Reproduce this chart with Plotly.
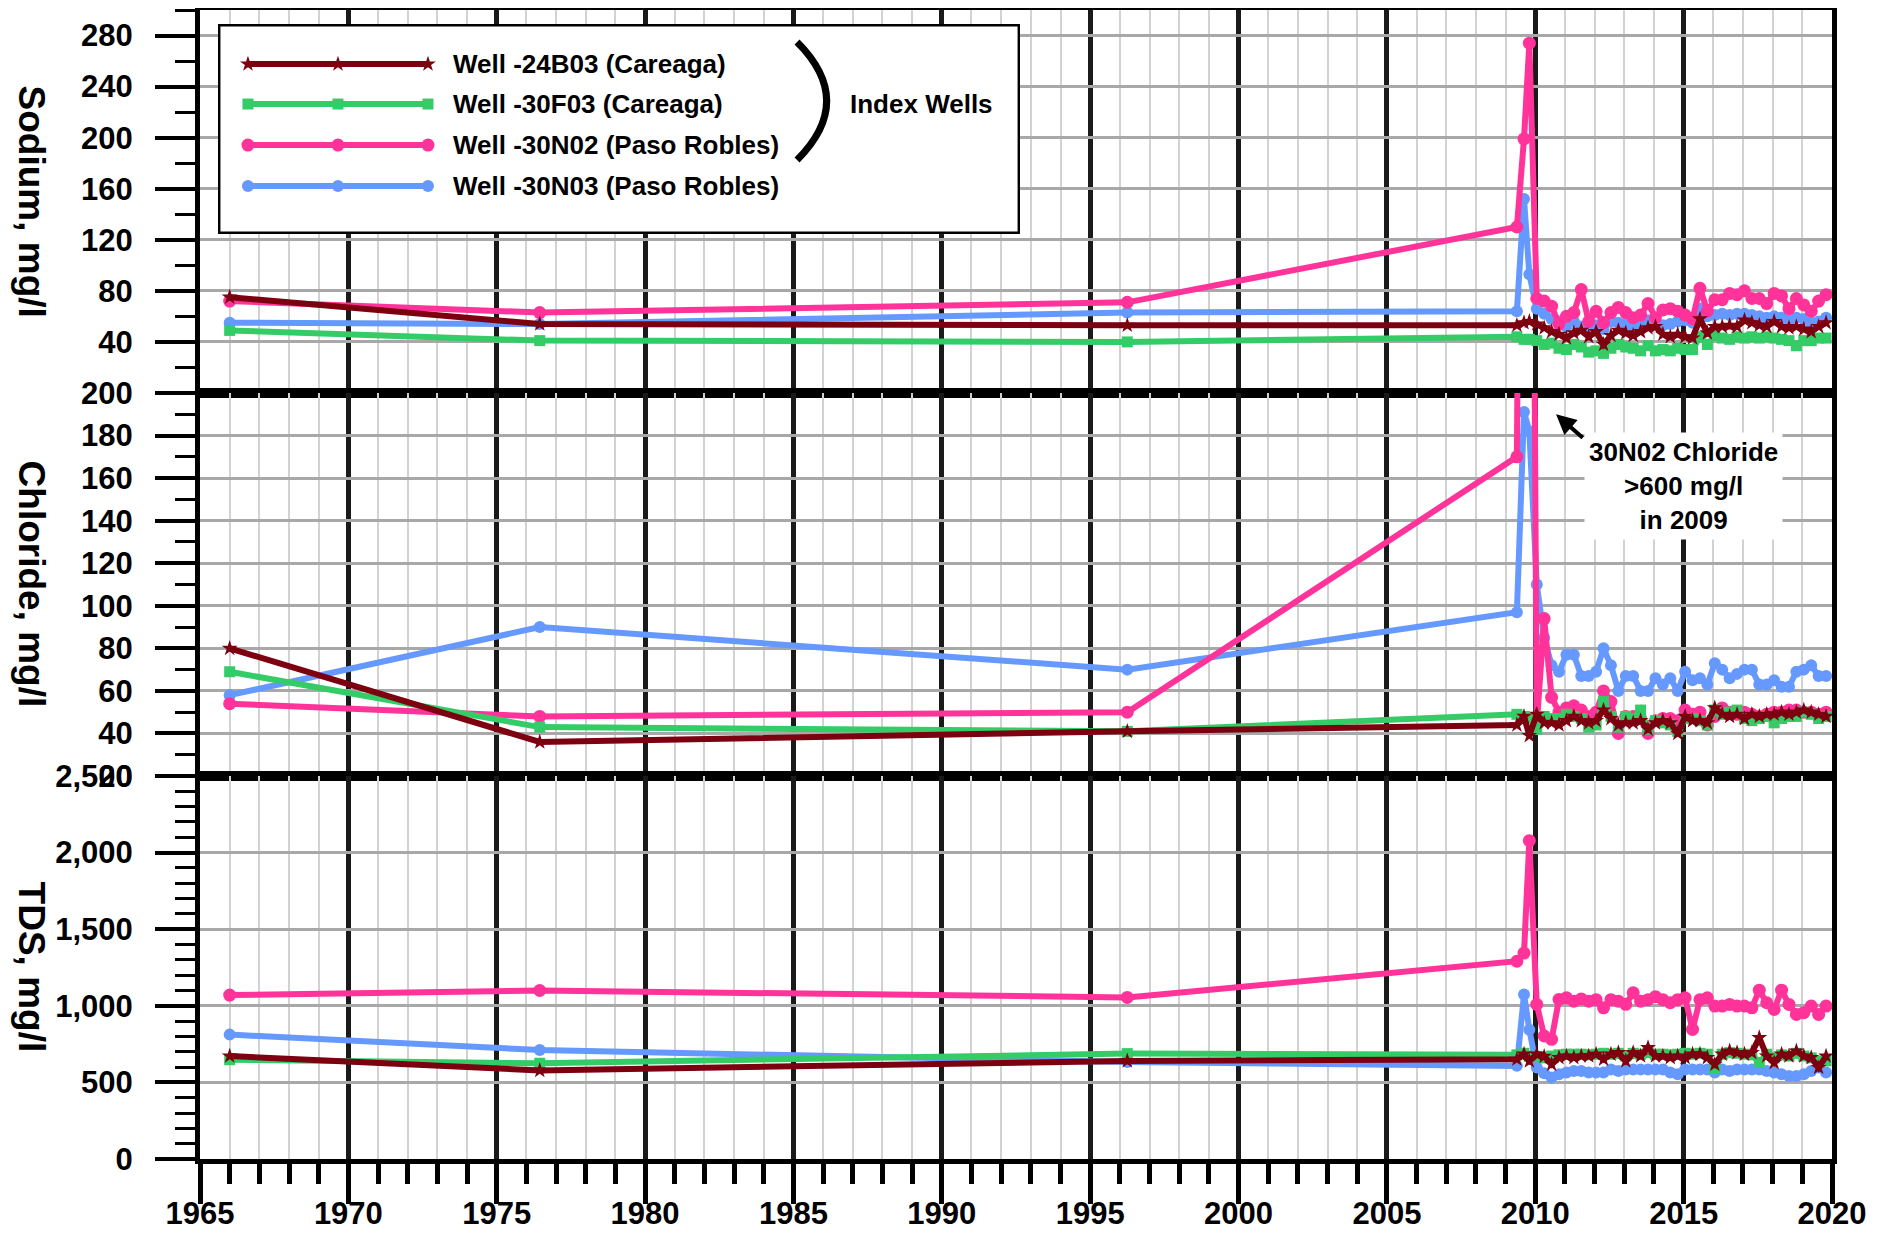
import plotly.graph_objects as go

# sample dates (decimal years)
t_early = [1966.0, 1976.45, 1996.25, 2009.38]
t_spike = [2009.62, 2009.8]
t_recent = [2010.05, 2010.30, 2010.55, 2010.80, 2011.05, 2011.30, 2011.55, 2011.80,
            2012.05, 2012.30, 2012.55, 2012.80, 2013.05, 2013.30, 2013.55, 2013.80,
            2014.05, 2014.30, 2014.55, 2014.80, 2015.05, 2015.30, 2015.55, 2015.80,
            2016.05, 2016.30, 2016.55, 2016.80, 2017.05, 2017.30, 2017.55, 2017.80,
            2018.05, 2018.30, 2018.55, 2018.80, 2019.05, 2019.30, 2019.55, 2019.80]
t_all = t_early + t_spike + t_recent

wells = ["Well -24B03 (Careaga)", "Well -30F03 (Careaga)",
         "Well -30N02 (Paso Robles)", "Well -30N03 (Paso Robles)"]

# Sodium, mg/l
na_24b03 = [75, 54, 53, 53, 55, 56,
            54, 51, 48, 46, 43, 47, 49, 44, 48, 38,
            45, 49, 47, 45, 48, 51, 52, 46, 44, 46,
            44, 43, 58, 47, 52, 52, 53, 52, 57, 55,
            53, 52, 56, 52, 51, 52, 50, 48, 52, 55]
na_30f03 = [49, 41, 40, 44, 42, 42,
            41, 38, 39, 35, 34, 38, 36, 32, 33, 31,
            35, 38, 36, 35, 33, 37, 33, 34, 33, 35,
            34, 34, 44, 38, 45, 43, 42, 44, 43, 44,
            43, 44, 43, 42, 41, 37, 41, 41, 43, 43]
na_30n02 = [72, 63, 71, 130, 199, 274,
            74, 72, 68, 54, 60, 63, 81, 56, 64, 55,
            63, 67, 63, 59, 61, 70, 59, 65, 66, 64,
            61, 58, 82, 64, 73, 73, 78, 77, 80, 74,
            74, 70, 78, 76, 66, 74, 69, 64, 72, 77]
na_30n03 = [55, 54, 63, 64, 152, 93,
            66, 62, 58, 56, 52, 56, 52, 49, 53, 50,
            56, 55, 54, 52, 54, 57, 56, 53, 54, 56,
            57, 55, 66, 60, 61, 62, 61, 62, 62, 61,
            60, 59, 60, 59, 57, 59, 58, 55, 56, 59]

# Chloride, mg/l
cl_24b03 = [80, 36, 41, 44, 48, 39,
            49, 45, 45, 44, 46, 48, 46, 45, 46, 51,
            47, 44, 45, 45, 46, 42, 45, 46, 45, 40,
            48, 46, 46, 45, 52, 49, 48, 49, 47, 49,
            48, 49, 49, 50, 49, 50, 51, 50, 49, 48]
cl_30f03 = [69, 43, 41, 49, 48, 47,
            42, 48, 47, 47, 49, 48, 47, 43, 44, 55,
            48, 43, 48, 47, 51, 42, 46, 45, 44, 41,
            47, 47, 46, 44, 51, 49, 50, 51, 47, 46,
            47, 48, 45, 47, 48, 48, 50, 49, 47, 48]
cl_30n02 = [54, 48, 50, 170, 620, 610,
            44, 94, 57, 50, 52, 53, 51, 48, 50, 60,
            55, 40, 48, 48, 47, 40, 46, 47, 47, 46,
            51, 49, 50, 44, 48, 52, 50, 49, 50, 49,
            48, 49, 50, 50, 51, 51, 50, 50, 49, 50]
cl_30n03 = [58, 90, 70, 97, 191, 182,
            110, 85, 72, 69, 77, 77, 67, 67, 69, 80,
            72, 60, 67, 67, 60, 60, 66, 63, 66, 60,
            69, 65, 66, 63, 73, 70, 66, 68, 70, 70,
            63, 63, 65, 62, 62, 69, 70, 72, 67, 67]

# TDS, mg/l
tds_24b03 = [672, 578, 640, 651, 684, 640,
             684, 670, 618, 662, 672, 662, 672, 672, 684, 651,
             684, 694, 640, 694, 672, 727, 672, 672, 662, 672,
             662, 684, 684, 662, 618, 684, 705, 694, 684, 694,
             792, 672, 629, 684, 672, 705, 672, 662, 597, 672]
tds_30f03 = [648, 625, 688, 680, 690, 670,
             670, 660, 672, 680, 684, 684, 684, 680, 684, 690,
             684, 690, 672, 690, 684, 694, 684, 684, 680, 684,
             690, 684, 690, 684, 590, 684, 694, 690, 684, 680,
             630, 684, 660, 680, 672, 690, 672, 660, 640, 640]
tds_30n02 = [1070, 1100, 1055, 1291, 1344, 2078,
             1009, 803, 781, 1042, 1052, 1030, 1045, 1030, 1040, 987,
             1040, 1030, 1010, 1085, 1030, 1040, 1060, 1040, 1020, 1040,
             1052, 846, 1040, 1052, 998, 998, 1009, 998, 998, 987,
             1102, 1020, 976, 1102, 1009, 944, 955, 998, 944, 998]
tds_30n03 = [812, 711, 633, 608, 1074, 844,
             597, 560, 532, 553, 565, 575, 575, 565, 565, 565,
             585, 575, 585, 585, 585, 585, 585, 585, 565, 553,
             585, 585, 585, 585, 565, 585, 575, 585, 585, 585,
             585, 575, 565, 553, 542, 542, 553, 575, 597, 565]

colors = ["#7d0011", "#33cc66", "#ff3399", "#6699ff"]
symbols = ["star", "square", "circle", "circle"]
msizes = [12, 11, 13, 12]

panels = [
    ("x", "y", [na_24b03, na_30f03, na_30n02, na_30n03]),
    ("x2", "y2", [cl_24b03, cl_30f03, cl_30n02, cl_30n03]),
    ("x3", "y3", [tds_24b03, tds_30f03, tds_30n02, tds_30n03]),
]

fig = go.Figure()
draw_order = [3, 2, 1, 0]  # blue, pink, green, maroon on top
for xa, ya, series in panels:
    for i in draw_order:
        fig.add_trace(go.Scatter(
            x=t_all, y=series[i], name=wells[i], mode="lines+markers",
            line=dict(color=colors[i], width=6),
            marker=dict(symbol=symbols[i], size=msizes[i], color=colors[i]),
            xaxis=xa, yaxis=ya, showlegend=False))

# legend (drawn on its own hidden axes, pixel-like units)
leg_rows = [64, 104, 145, 186]
for i in range(4):
    fig.add_trace(go.Scatter(
        x=[248, 338, 428], y=[leg_rows[i]] * 3, mode="lines+markers",
        line=dict(color=colors[i], width=6),
        marker=dict(symbol=symbols[i], size=msizes[i], color=colors[i]),
        xaxis="x4", yaxis="y4", showlegend=False, hoverinfo="skip"))

tickfont = dict(family="Liberation Sans, Arial", size=31, color="black", weight="bold")
xcommon = dict(range=[1965, 2020], tick0=1965, dtick=5, showgrid=True,
               gridcolor="#1a1a1a", gridwidth=5, zeroline=False, automargin=False,
               showline=True, linecolor="black", linewidth=5, mirror=True,
               minor=dict(dtick=1, showgrid=True, gridcolor="#d2d2d2", gridwidth=2))
ycommon = dict(showgrid=True, gridcolor="#a8a8a8", gridwidth=2.5, zeroline=False,
               showline=True, linecolor="black", linewidth=5, mirror=True,
               ticks="outside", ticklen=40, tickwidth=4, tickcolor="black",
               tickfont=tickfont, ticklabelstandoff=16, automargin=False)

# page body has an 8px margin, so the figure is a bit smaller than the window
fig.update_layout(
    width=1865, height=1217,
    margin=dict(l=192, r=41, t=2, b=66),
    paper_bgcolor="white", plot_bgcolor="white",
    showlegend=False,
    xaxis3=dict(xcommon, anchor="y3", ticks="outside", ticklen=40, tickwidth=5,
                tickcolor="black", tickfont=tickfont, ticklabelstandoff=-17,
                minor=dict(xcommon["minor"], ticks="outside", ticklen=20,
                           tickwidth=5, tickcolor="black")),
    xaxis2=dict(xcommon, anchor="y2", matches="x3", showticklabels=False, ticks=""),
    xaxis=dict(xcommon, anchor="y", matches="x3", showticklabels=False, ticks=""),
    yaxis=dict(ycommon, domain=[0.6667, 1.0], anchor="x", range=[0, 300],
               tickmode="array", tickvals=[40, 80, 120, 160, 200, 240, 280],
               minor=dict(tickmode="linear", tick0=0, dtick=20, ticks="outside",
                          ticklen=20, tickwidth=3, tickcolor="black", showgrid=False)),
    yaxis2=dict(ycommon, domain=[0.3333, 0.6667], anchor="x2", range=[20, 200],
                tick0=20, dtick=20,
                minor=dict(dtick=10, ticks="outside", ticklen=20, tickwidth=3,
                           tickcolor="black", showgrid=False)),
    yaxis3=dict(ycommon, domain=[0.0, 0.3333], anchor="x3", range=[0, 2500],
                tick0=0, dtick=500, tickformat=",d",
                minor=dict(dtick=100, ticks="outside", ticklen=20, tickwidth=3,
                           tickcolor="black", showgrid=False)),
    xaxis4=dict(domain=[0.011, 0.5025], range=[218, 1020], visible=False,
                anchor="y4", automargin=False),
    yaxis4=dict(domain=[0.805, 0.9878], range=[234, 24], visible=False,
                anchor="x4", automargin=False),
)

# legend box and bracket
fig.add_shape(type="rect", xref="x4", yref="y4", x0=218, x1=1020, y0=24, y1=234,
              line=dict(color="black", width=5), fillcolor="white", layer="between")
fig.add_shape(type="path", xref="x4", yref="y4",
              path="M 797,42 Q 856,101 797,160",
              line=dict(color="black", width=7))

legfont = dict(family="Liberation Sans, Arial", size=26, color="black", weight="bold")
for i in range(4):
    fig.add_annotation(x=451, y=leg_rows[i], xref="x4", yref="y4", text=wells[i],
                       showarrow=False, xanchor="left", yanchor="middle", font=legfont)
fig.add_annotation(x=921, y=104, xref="x4", yref="y4", text="Index Wells",
                   showarrow=False, xanchor="center", yanchor="middle", font=legfont)

# axis titles
titlefont = dict(family="Liberation Sans, Arial", size=37, color="black", weight="bold")
for yref, label in [("y domain", "Sodium, mg/l"), ("y2 domain", "Chloride, mg/l"),
                    ("y3 domain", "TDS, mg/l")]:
    fig.add_annotation(x=-0.103, y=0.5, xref="paper", yref=yref, text=label,
                       textangle=90, showarrow=False, font=titlefont,
                       xanchor="center", yanchor="middle")

# chloride note
fig.add_annotation(x=2010.7, y=190, xref="x2", yref="y2", ax=2011.65, ay=178.3,
                   axref="x2", ayref="y2", text="", showarrow=True,
                   arrowhead=2, arrowsize=1, arrowwidth=4, arrowcolor="black")
fig.add_annotation(x=2015.0, y=156.5, xref="x2", yref="y2",
                   text="30N02 Chloride<br>&gt;600 mg/l<br>in 2009",
                   showarrow=False, bgcolor="white", borderpad=4,
                   font=dict(family="Liberation Sans, Arial", size=26,
                             color="black", weight="bold"))

fig.write_html("out.html")
